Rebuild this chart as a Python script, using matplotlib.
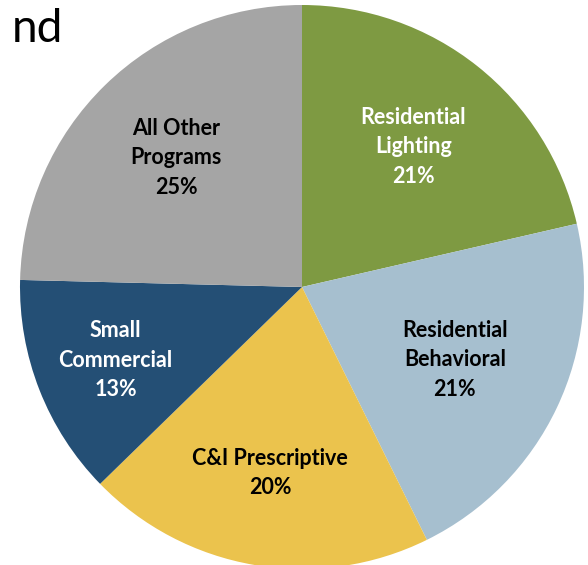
import matplotlib.pyplot as plt
import numpy as np

# program share of savings (slice sizes, labels as printed)
programs = ['Residential\nLighting', 'Residential\nBehavioral', 'C&I Prescriptive',
            'Small\nCommercial', 'All Other\nPrograms']
shares = [21.4, 21.3, 20.0, 12.7, 24.6]
share_labels = ['21%', '21%', '20%', '13%', '25%']

colors = ['#7E9A42', '#A6BFCF', '#EBC34D', '#244F75', '#A5A5A5']
text_colors = ['white', 'black', 'black', 'white', 'black']
label_radius = [0.635, 0.60, 0.67, 0.71, 0.64]

W, H = 588, 565
fig = plt.figure(figsize=(W / 100, H / 100), dpi=100)
ax = fig.add_axes([0, 0, 1, 1])

cx, cy, r = 302, H - 287, 282
wedges, _ = ax.pie(shares, colors=colors, startangle=90, counterclock=False,
                   center=(cx, cy), radius=r, frame=True,
                   wedgeprops=dict(linewidth=0))
ax.set_xlim(0, W)
ax.set_ylim(0, H)
ax.set_aspect('equal')
ax.axis('off')

# labels in the middle of each wedge
for w, name, pct, tc, lr in zip(wedges, programs, share_labels, text_colors, label_radius):
    mid = np.deg2rad((w.theta1 + w.theta2) / 2)
    x = cx + lr * r * np.cos(mid)
    y = cy + lr * r * np.sin(mid)
    ax.text(x, y, name + '\n' + pct, ha='center', va='center', color=tc,
            fontsize=15.5, fontweight='bold', family='Lato', linespacing=1.5)

# tail of the slide title, cut off by the crop
fig.text(12 / W, 1 - 42 / H, 'nd', fontsize=33, family='Lato', color='black',
         ha='left', va='baseline')

fig.savefig('out.png', dpi=100)
